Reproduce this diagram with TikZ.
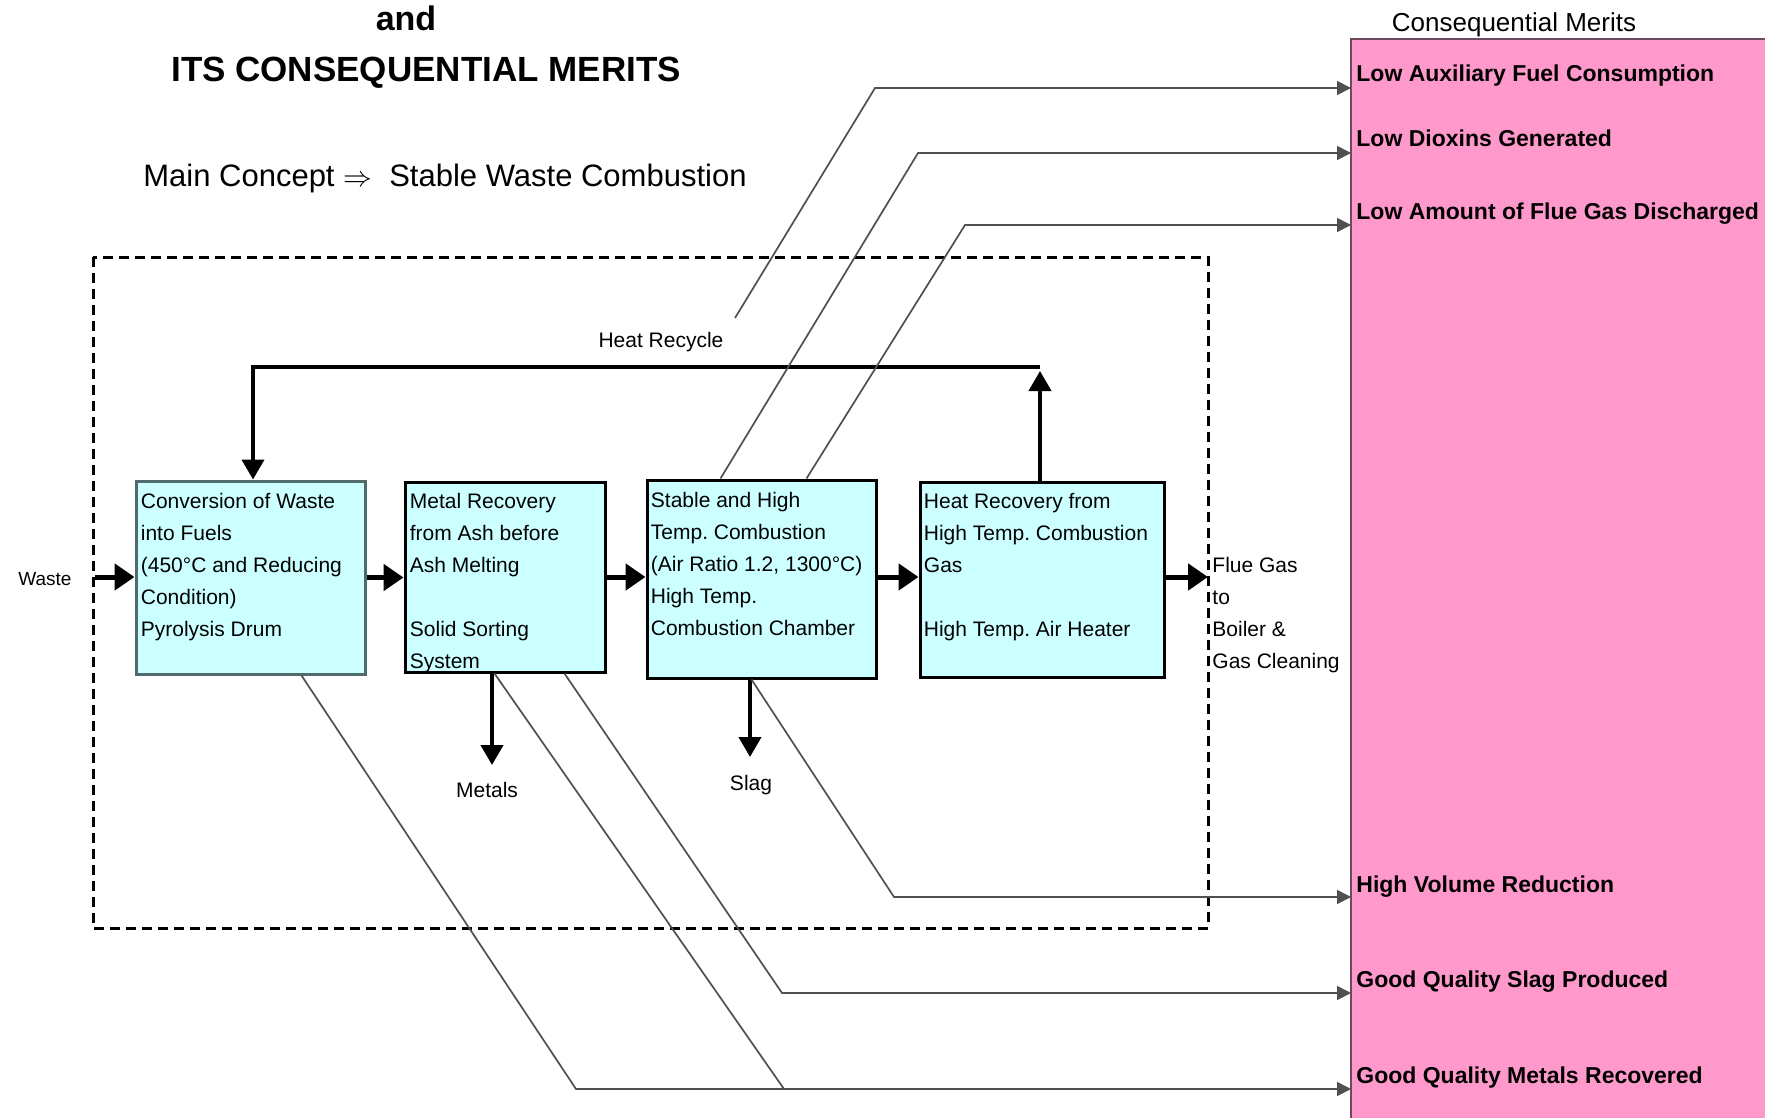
\documentclass[tikz,border=0pt]{standalone}
\usepackage{fontspec}
\setmainfont{Liberation Sans}
\usetikzlibrary{arrows.meta,calc}
\definecolor{pinkbg}{HTML}{FF99CC}
\definecolor{cyanbox}{HTML}{CCFFFF}
\definecolor{slateb}{HTML}{4F6B6B}
\definecolor{greyline}{HTML}{505050}
\definecolor{pinkedge}{HTML}{6E4A5E}
\frenchspacing
\begin{document}
\begin{tikzpicture}[x=0.5pt,y=-0.5pt,
 box/.style={draw=black, line width=1.5pt, fill=cyanbox, inner sep=0pt},
 boxtext/.style={anchor=north west, inner sep=0pt, align=left, font=\fontsize{10.5}{16}\selectfont},
 lbl/.style={inner sep=0pt, font=\fontsize{10.5}{16}\selectfont},
 merit/.style={anchor=base west, inner sep=0pt, font=\fontsize{11.5}{14}\selectfont\bfseries},
 flow/.style={line width=2.5pt, -{Triangle[length=10pt,width=13pt]}},
 recyc/.style={line width=2pt, line join=miter, -{Triangle[length=10pt,width=11pt]}},
 meritarrow/.style={draw=greyline, line width=0.85pt, -{Triangle[length=7pt,width=7pt]}},
 thinl/.style={draw=greyline, line width=0.85pt},
]
\useasboundingbox (0,0) rectangle (1765,1118);
\fill[white] (0,0) rectangle (1765,1118);

% pink merits panel
\fill[pinkbg] (1351,39) rectangle (1765,1118);
\draw[pinkedge, line width=1.25pt] (1351,1118) -- (1351,39) -- (1765,39);

% titles
\node[anchor=base, inner sep=0pt, font=\fontsize{17}{20}\selectfont\bfseries] (tand) at (406,31) {and};
\node[anchor=base, inner sep=0pt, font=\fontsize{17.5}{20}\selectfont\bfseries] (title) at (426,82) {ITS CONSEQUENTIAL MERITS};
\node[anchor=base west, inner sep=0pt, font=\fontsize{15.5}{18}\selectfont] (concept) at (143,187) {Main Concept $\Rightarrow$\ \ Stable Waste Combustion};
\node[anchor=base, inner sep=0pt, font=\fontsize{13}{15}\selectfont] (cm) at (1514,32) {Consequential Merits};

% dashed system boundary
\draw[line width=1.5pt, dash pattern=on 5pt off 3pt] (93,257) rectangle (1208,928);

% process boxes
\node[box, draw=slateb, minimum width=114.5pt, minimum height=96.5pt] (b1) at (250.5,577.5) {};
\node[box, minimum width=100pt, minimum height=95pt] (b2) at (505,577) {};
\node[box, minimum width=114.5pt, minimum height=99pt] (b3) at (761.5,579) {};
\node[box, minimum width=122pt, minimum height=97.5pt] (b4) at (1042,579.5) {};

\node[boxtext] (b1t) at ($(b1.north west)+(6,13)$) {Conversion of Waste\\into Fuels\\(450°C and Reducing\\Condition)\\Pyrolysis Drum};
\node[boxtext] (b2t) at ($(b2.north west)+(6,12)$) {Metal Recovery\\from Ash before\\Ash Melting\\[16pt]Solid Sorting\\System};
\node[boxtext] (b3t) at ($(b3.north west)+(5,13)$) {Stable and High\\Temp. Combustion\\(Air Ratio 1.2, 1300°C)\\High Temp.\\Combustion Chamber};
\node[boxtext] (b4t) at ($(b4.north west)+(5,12)$) {Heat Recovery from\\High Temp. Combustion\\Gas\\[16pt]High Temp. Air Heater};

% labels
\node[anchor=base west, inner sep=0pt, font=\fontsize{9.5}{12}\selectfont] (waste) at (18,585) {Waste};
\node[lbl, anchor=base] (hr) at (661,347) {Heat Recycle};
\node[lbl, anchor=base] (metals) at (487,797) {Metals};
\node[lbl, anchor=base] (slag) at (751,790) {Slag};
\node[boxtext] (flue) at (1212,557) {Flue Gas\\to\\Boiler \&\\Gas Cleaning};

% main flow
\coordinate (win) at (95,577);
\coordinate (fout) at (1208,577);
\draw[flow] (win) -- (win -| b1.west);
\draw[flow] (b1.east) -- (b1.east -| b2.west);
\draw[flow] (b2.east) -- (b2.east -| b3.west);
\draw[flow] (b3.east |- b2.east) -- (b2.east -| b4.west);
\draw[flow] (fout -| b4.east) -- (fout);

% heat recycle loop
\coordinate (rc1) at (1040,367);
\coordinate (rc2) at (253,367);
\draw[recyc] (b4.north -| rc1) -- ($(rc1)+(0,4)$);
\draw[recyc] (rc1) -- (rc2) -- (rc2 |- b1.north);

% metals and slag outputs
\coordinate (mt) at (492,765);
\coordinate (st) at (750,757);
\draw[recyc] (b2.south -| mt) -- (mt);
\draw[recyc] (b3.south -| st) -- (st);

% merits
\node[merit] (m1) at (1356,82) {Low Auxiliary Fuel Consumption};
\node[merit] (m2) at (1356,147) {Low Dioxins Generated};
\node[merit] (m3) at (1356,220) {Low Amount of Flue Gas Discharged};
\node[merit] (m4) at (1356,892) {High Volume Reduction};
\node[merit] (m5) at (1356,987) {Good Quality Slag Produced};
\node[merit] (m6) at (1356,1083) {Good Quality Metals Recovered};
\coordinate (e1) at (1351,88);
\coordinate (e2) at (1351,153);
\coordinate (e3) at (1351,225);
\coordinate (e4) at (1351,897);
\coordinate (e5) at (1351,993);
\coordinate (e6) at (1351,1089);

% connectors to merits
\coordinate (c1a) at (735,318);
\draw[meritarrow] (c1a) -- (875,88) -- (e1);
\draw[meritarrow] ($(b3.north west)+(75,0)$) -- (918,153) -- (e2);
\draw[meritarrow] ($(b3.north west)+(161,0)$) -- (965,225) -- (e3);
\draw[meritarrow] ($(b3.south west)+(106,0)$) -- (894,897) -- (e4);
\draw[meritarrow] ($(b2.south west)+(161,0)$) -- (782,993) -- (e5);
\draw[meritarrow] ($(b2.south west)+(91,0)$) -- (784,1089) -- (e6);
\draw[thinl] ($(b1.south west)+(167,0)$) -- (576,1089) -- (784,1089);
\end{tikzpicture}
\end{document}
